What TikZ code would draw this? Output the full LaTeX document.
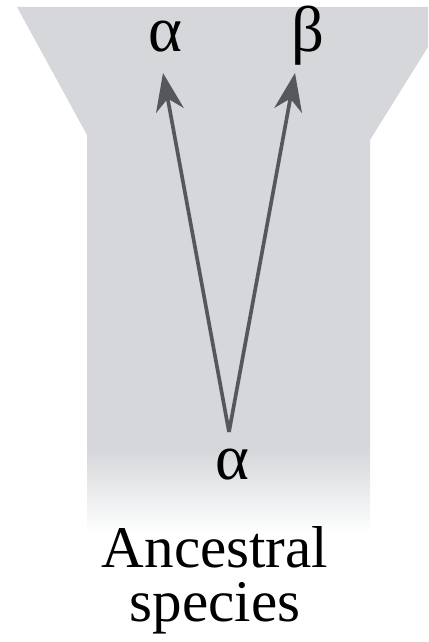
\documentclass[tikz,border=0pt]{standalone}
\usepackage{fontspec}
\setmainfont{Liberation Serif}
\usetikzlibrary{arrows.meta}
\definecolor{bggray}{RGB}{213,215,218}
\definecolor{arrgray}{RGB}{85,87,90}

\begin{document}
\begin{tikzpicture}[x=0.025cm,y=0.025cm,
    greek/.style={font=\fontsize{46}{46}\selectfont, anchor=base, inner sep=0pt},
    branch/.style={draw=arrgray, line width=2.6pt,
        -{Stealth[length=0.95cm, width=0.7cm, inset=0.3cm]}}]
    \useasboundingbox (0,0) rectangle (428,642);
    % funnel background
    \fill[bggray] (17,635) -- (428,635) -- (428,595) -- (370,502) -- (370,192)
        -- (87,192) -- (87,507) -- cycle;
    \shade[top color=bggray, bottom color=white] (87,109) rectangle (370,192.5);
    % species labels
    \node[greek] (alphaTop) at (165,590) {α};
    \node[greek] (betaTop) at (308,590) {β};
    \node[greek] (alphaAnc) at (232,162) {α};
    \node[font=\fontsize{42}{39}\selectfont, align=center, anchor=base,
        inner sep=0pt] (ancestor) at (215,20) {Ancestral\\species};
    % branches
    \coordinate (root) at (229,210);
    \coordinate (tipAlpha) at (163,569);
    \coordinate (tipBeta) at (295,569);
    \draw[branch] (root) -- (tipAlpha);
    \draw[branch] (root) -- (tipBeta);
\end{tikzpicture}
\end{document}
